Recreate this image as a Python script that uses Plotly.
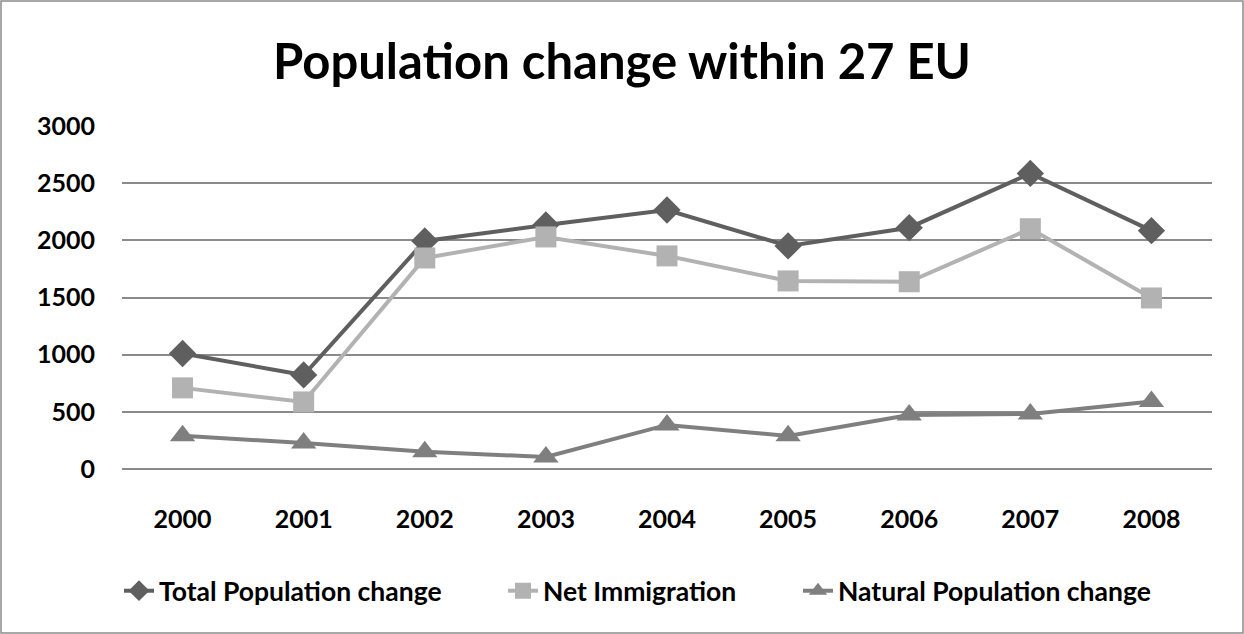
import plotly.graph_objects as go

years = ["2000", "2001", "2002", "2003", "2004", "2005", "2006", "2007", "2008"]
total_change = [1010, 822, 1995, 2135, 2266, 1951, 2111, 2586, 2085]
net_immigration = [709, 586, 1846, 2030, 1864, 1645, 1638, 2102, 1496]
natural_change = [289, 227, 149, 105, 385, 289, 472, 481, 589]
y_ticks = [0, 500, 1000, 1500, 2000, 2500, 3000]

W, H = 1244, 634
L, R, T, B = 122, 32, 126, 165
pw, ph = W - L - R, H - T - B

FONT = "Lato"

fig = go.Figure()
fig.add_trace(go.Scatter(x=years, y=total_change, name="<b>Total Population change</b>", mode="lines+markers",
                         line=dict(color="#5f5f5f", width=4),
                         marker=dict(symbol="diamond", size=21, color="#5f5f5f"), legend="legend"))
fig.add_trace(go.Scatter(x=years, y=net_immigration, name="<b>Net Immigration</b>", mode="lines+markers",
                         line=dict(color="#b2b2b2", width=4),
                         marker=dict(symbol="square", size=21, color="#b2b2b2"), legend="legend2"))
fig.add_trace(go.Scatter(x=years, y=natural_change, name="<b>Natural Population change</b>", mode="lines+markers",
                         line=dict(color="#7f7f7f", width=4),
                         marker=dict(symbol="triangle-up", size=22, color="#7f7f7f"), legend="legend3"))

leg_font = dict(family=FONT, size=26.5, color="black")
legy = (H - 591) / H


def leg(xpx):
    return dict(orientation="h", x=xpx / W, xanchor="left", xref="container", y=legy, yanchor="middle",
                yref="container", font=leg_font, bgcolor="rgba(0,0,0,0)")


fig.update_layout(
    width=W, height=H,
    margin=dict(l=L, r=R, t=T, b=B),
    paper_bgcolor="white", plot_bgcolor="white",
    title=dict(text="<b>Population change within 27 EU</b>", x=0.5, xref="container", xanchor="center",
               y=1 - 62 / H, yanchor="middle",
               font=dict(family=FONT, size=49, color="black")),
    xaxis=dict(type="category", range=[-0.5, 8.5], showgrid=False, showline=False, ticks="",
               tickfont=dict(family=FONT, size=25, color="black", weight="bold"), ticklabelstandoff=33),
    yaxis=dict(range=[-1, 3001], tickvals=y_ticks, showgrid=True, gridcolor="#8a8a8a", gridwidth=1.5,
               zeroline=True, zerolinecolor="#8a8a8a", zerolinewidth=1.5, showline=False, ticks="",
               tickfont=dict(family=FONT, size=25, color="black", weight="bold"), ticklabelstandoff=26),
    legend=leg(119),
    legend2=leg(503),
    legend3=leg(798),
    showlegend=True,
)

fig.add_shape(type="rect", xref="paper", yref="paper",
              x0=-(L - 1) / pw, x1=1 + (R - 1) / pw, y0=-(B - 1) / ph, y1=1 + (T - 1) / ph,
              line=dict(color="#8c8c8c", width=1.5), fillcolor="rgba(0,0,0,0)", layer="below")

fig.write_html("out.html")
